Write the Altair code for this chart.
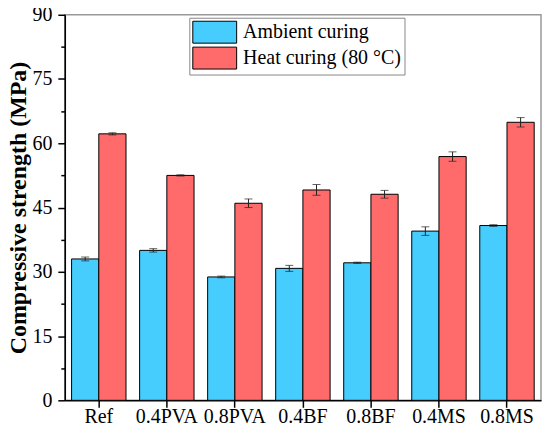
import altair as alt
import pandas as pd

categories = ["Ref", "0.4PVA", "0.8PVA", "0.4BF", "0.8BF", "0.4MS", "0.8MS"]
series = ["Ambient curing", "Heat curing (80 °C)"]
ambient = [33.0, 35.0, 28.8, 30.8, 32.1, 39.5, 40.8]
ambient_err = [0.45, 0.4, 0.2, 0.7, 0.15, 1.0, 0.2]
heat = [62.2, 52.5, 46.0, 49.1, 48.1, 56.9, 64.9]
heat_err = [0.25, 0.15, 1.0, 1.25, 0.9, 1.1, 1.1]
colors = ["#46CDFE", "#FF6B6B"]
y_ticks = [0, 7.5, 15, 22.5, 30, 37.5, 45, 52.5, 60, 67.5, 75, 82.5, 90]

rows = []
for i, c in enumerate(categories):
    rows.append(dict(cat=c, series=series[0], value=ambient[i], err=ambient_err[i]))
    rows.append(dict(cat=c, series=series[1], value=heat[i], err=heat_err[i]))
df = pd.DataFrame(rows)

font = "Liberation Serif"

xscale = alt.Scale(paddingInner=0.2, paddingOuter=0.1)
xoscale = alt.Scale(paddingInner=0, paddingOuter=0)
yscale = alt.Scale(domain=[0, 90], nice=False, zero=True)

x_axis = alt.Axis(title=None, labelAngle=0, labelFont=font, labelFontSize=20,
                  labelColor="black", tickSize=7, tickColor="black", tickWidth=1.5,
                  domainColor="black", domainWidth=1.5,
                  labelBaseline="alphabetic", labelPadding=15)
y_axis = alt.Axis(title="Compressive strength (MPa)", titleFont=font, titleFontSize=24,
                  titleFontWeight="bold", titleColor="black", titlePadding=1,
                  values=y_ticks, format="d",
                  labelExpr="datum.value % 15 == 0 ? datum.label : ''",
                  labelFont=font, labelFontSize=20, labelColor="black", labelPadding=6,
                  tickSize={"condition": {"test": "datum.value % 15 == 0", "value": 7}, "value": 4},
                  tickColor="black", tickWidth=1.5, domainColor="black", domainWidth=1.5,
                  grid=False)

X = alt.X("cat:N", sort=categories, scale=xscale, axis=x_axis)
XO = alt.XOffset("series:N", sort=series, scale=xoscale)

base = alt.Chart(df).transform_calculate(
    lo="datum.value - datum.err", hi="datum.value + datum.err"
)

bars = base.mark_bar(stroke="black", strokeWidth=1).encode(
    x=X, xOffset=XO,
    y=alt.Y("value:Q", scale=yscale, axis=y_axis),
    color=alt.Color("series:N", sort=series,
                    scale=alt.Scale(domain=series, range=colors),
                    legend=alt.Legend(title=None, orient="none", legendX=125, legendY=3,
                                      symbolType="M-1,-1H3V1H-1Z", symbolSize=484,
                                      symbolStrokeColor="black", symbolStrokeWidth=1,
                                      symbolOpacity=1,
                                      labelFont=font, labelFontSize=20, labelColor="black",
                                      labelOffset=28, labelLimit=400, rowPadding=-1,
                                      padding=3, strokeColor="#888888")),
)

rules = base.mark_rule(color="#222222", strokeWidth=1).encode(
    x=X, xOffset=XO,
    y=alt.Y("lo:Q", scale=yscale, axis=y_axis),
    y2="hi:Q",
)
cap_lo = base.mark_tick(color="#222222", thickness=1, size=8).encode(
    x=X, xOffset=XO,
    y=alt.Y("lo:Q", scale=yscale, axis=y_axis),
)
cap_hi = base.mark_tick(color="#222222", thickness=1, size=8).encode(
    x=X, xOffset=XO,
    y=alt.Y("hi:Q", scale=yscale, axis=y_axis),
)

chart = alt.layer(bars, rules, cap_lo, cap_hi).properties(
    width=478, height=387,
    autosize=alt.AutoSizeParams(type="none"),
    padding={"left": 57, "top": 6, "right": 1, "bottom": 27},
).configure_view(stroke="#999999", strokeWidth=1.5)

chart.save("out.html", embed_options={"renderer": "svg", "actions": False})
